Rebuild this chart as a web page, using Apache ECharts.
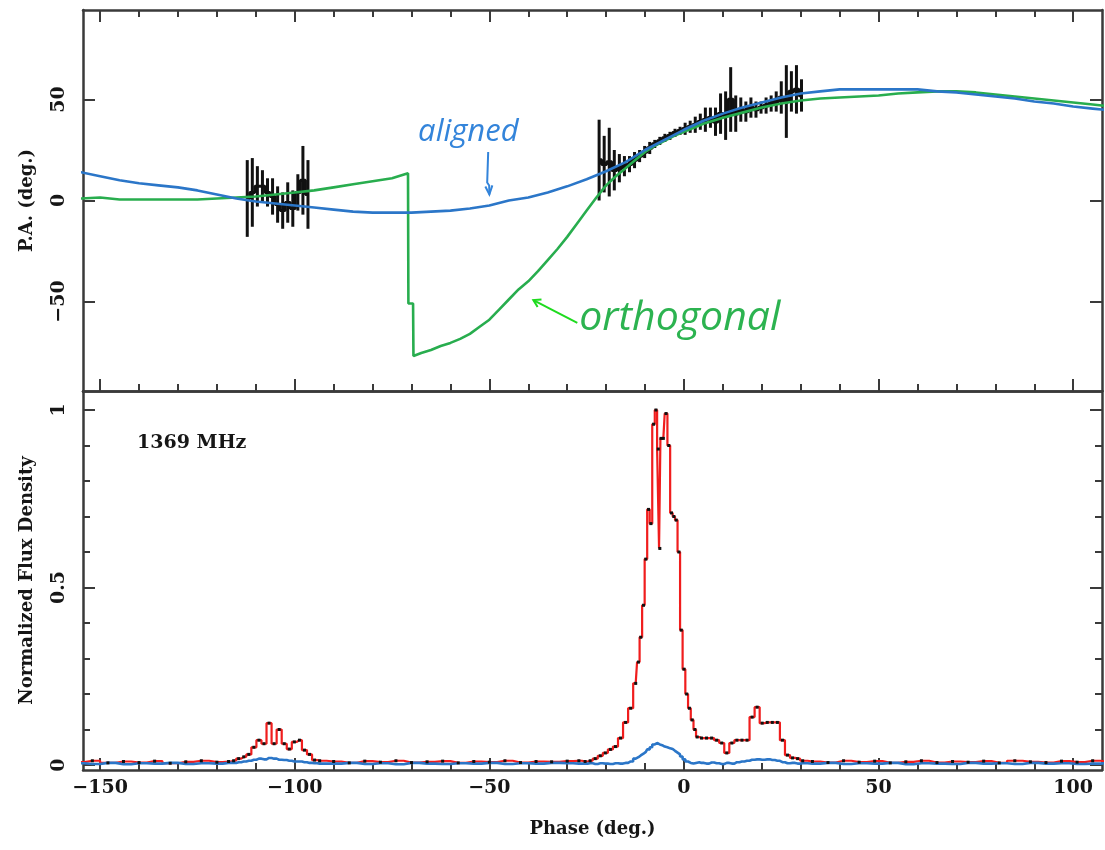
<!DOCTYPE html>
<html><head><meta charset="utf-8">
<script src="https://cdn.jsdelivr.net/npm/echarts@6/dist/echarts.min.js"></script>
<style>html,body{margin:0;padding:0;background:#fff}#c{width:1105px;height:850px}</style>
</head><body><div id="c"></div>
<script>
// ---------- tick labels ----------
const xMajorTicks = [-150, -100, -50, 0, 50, 100];
const xMinorTicks = [-150,-140,-130,-120,-110,-100,-90,-80,-70,-60,-50,-40,-30,-20,-10,0,10,20,30,40,50,60,70,80,90,100];
const paMajorTicks = [-50, 0, 50];
const fluxMajorTicks = [0, 0.5, 1];
const fluxMinorTicks = [0,0.1,0.2,0.3,0.4,0.5,0.6,0.7,0.8,0.9,1];

// ---------- top panel: RVM model curves ----------
const alignedPhase = [-155,-150,-145,-140,-135,-130,-125,-120,-115,-110,-105,-100,-95,-90,-85,-80,-75,-70,-65,-60,-55,-50,-45,-40,-35,-30,-25,-20,-15,-10,-5,0,5,10,15,20,25,30,35,40,45,50,55,60,65,70,75,80,85,90,95,100,105,110];
const alignedPA    = [14,12,10,8.5,7.5,6.5,5,3,1,-0.5,-1.5,-2.5,-3.5,-4.5,-5.5,-6,-6,-6,-5.5,-5,-4,-2.5,0,1.5,4,7,10.5,14.5,19,25,30,35,39.5,43,46,48.5,51,53,54,55,55,55,55,55,54,53.5,52.5,51.5,50.5,49,48,46.5,45.5,44.5];

const orthoPhase = [-155,-150,-145,-140,-135,-130,-125,-120,-115,-110,-105,-100,-95,-90,-85,-80,-75,-70.9,-70.8,-69.6,-69.5,
  -67.5,-65,-62.5,-60,-57.5,-55,-52.5,-50,-47.5,-45,-42.5,-40,-37.5,-35,-32.5,-30,-27.5,-25,-22.5,-20,-17.5,-15,-12.5,-10,-7.5,-5,-2.5,
  0,5,10,15,20,25,30,35,40,45,50,55,60,65,70,75,80,85,90,95,100,105,110];
const orthoPA    = [1,1.5,0.5,0.5,0.5,0.5,0.5,1,1.5,2,3,4,5,6.5,8,9.5,11,13.5,-51,-51,-77,
  -75.5,-74,-72,-70.5,-68.5,-66,-62.5,-59,-54,-49,-44,-40,-35,-29.5,-24,-18,-11.5,-5,1.5,7.5,12,16,20,24,27,29.5,32,
  34,38,41,43.5,46,48,49.5,50.5,51,51.5,52,53,53.5,54,54,53.5,52.5,51.5,50.5,49.5,48.5,47.5,46.5];

// ---------- top panel: measured P.A. with errors ----------
const pa1Phase = [-112.2,-110.9,-109.6,-108.3,-107.0,-105.7,-104.4,-103.1,-101.8,-100.5,-99.2,-97.9,-96.6];
const pa1Value = [1,4,7,7,4,2,-2,-5,-1,-4,4,10,3];
const pa1Error = [19,17,10,8,7,9,9,9,10,9,9,17,17];

const pa2Phase = [-21.8,-20.5,-19.2,-17.9,-16.6,-15.3,-14.0,-12.7,-11.4,-10.1,-8.8,-7.5,-6.2,-4.9,-3.6,-2.3,-1.0,0.3,1.6,2.9,4.2,5.5,6.8,8.1,9.4,10.7,12.0,13.3,14.6,15.9,17.2,18.5,19.8,21.1,22.4,23.7,25.0,26.3,27.6,28.9,30.2];
const pa2Value = [20,18,19,15,16,17,18,20,22,24,26,28,29.5,31,32,33.5,34.5,35.5,36.5,37.5,39,40,41,39,43,42,50,43,45,44,46,45,46,47,48,49,51,49,54,55,52];
const pa2Error = [20,14,17,10,7,5,4,4,3,3,3,2,2,2,2,2,2,3,3,4,4,6,5,7,10,12,16,9,6,5,5,4,3,4,4,5,8,18,10,12,8];

// ---------- bottom panel: profile ----------
const profPhase = [
 -156,-152,-148,-144,-140,-136,-132,-128,-124,-120,-117,
 -115.7,-114.4,-113.1,-111.8,-110.5,-109.2,-107.9,-106.6,-105.3,-104.0,-102.7,-101.4,-100.1,-98.8,-97.5,-96.2,-94.9,-93.6,
 -90,-86,-82,-78,-74,-70,-66,-62,-58,-54,-50,-46,-42,-38,-34,-30,-27,
 -25.4,-24.1,-22.8,-21.5,-20.2,-18.9,-17.6,-16.3,-15.0,-13.7,-12.4,-11.7,-11.1,-10.4,-9.8,-9.1,-8.5,-7.8,-7.2,-6.6,-6.2,-5.9,-5.3,-4.6,-3.9,-3.2,-2.6,-2.0,-1.3,-0.7,0.0,0.7,1.4,2.1,2.8,3.4,4.5,5.8,7.1,8.4,9.7,11.0,12.3,13.6,14.9,16.2,17.5,18.8,20.1,21.4,22.7,24.0,25.3,26.6,27.9,29.2,30.5,
 33,37,41,45,49,53,57,61,65,69,73,77,81,85,89,93,97,101,105,109];
const totalI = [
 0.008,0.012,0.006,0.010,0.007,0.011,0.005,0.009,0.012,0.008,0.010,
 0.012,0.018,0.023,0.030,0.050,0.070,0.060,0.118,0.060,0.100,0.060,0.045,0.065,0.070,0.042,0.030,0.014,0.012,
 0.010,0.006,0.011,0.008,0.012,0.007,0.009,0.011,0.006,0.010,0.008,0.012,0.007,0.010,0.009,0.011,0.012,
 0.010,0.012,0.018,0.026,0.034,0.044,0.052,0.076,0.12,0.16,0.23,0.29,0.36,0.45,0.58,0.72,0.68,0.96,1.0,0.89,0.61,0.92,0.92,0.99,0.90,0.71,0.70,0.69,0.60,0.38,0.27,0.20,0.16,0.127,0.10,0.079,0.076,0.076,0.076,0.07,0.062,0.034,0.062,0.07,0.07,0.07,0.135,0.163,0.118,0.12,0.12,0.12,0.07,0.028,0.02,0.018,0.012,
 0.010,0.007,0.012,0.008,0.011,0.006,0.009,0.012,0.007,0.010,0.008,0.011,0.006,0.012,0.009,0.007,0.011,0.008,0.012,0.009];
const linearL = [
 0.005,0.003,0.006,0.002,0.005,0.004,0.006,0.003,0.005,0.004,0.006,
 0.006,0.008,0.010,0.012,0.015,0.018,0.016,0.020,0.018,0.015,0.014,0.012,0.010,0.010,0.008,0.006,0.005,0.004,
 0.004,0.006,0.003,0.005,0.002,0.006,0.004,0.003,0.005,0.004,0.006,0.003,0.005,0.004,0.006,0.005,0.004,
 0.004,0.005,0.003,0.005,0.004,0.003,0.005,0.004,0.006,0.010,0.018,0.022,0.027,0.032,0.037,0.044,0.050,0.058,0.062,0.060,0.058,0.056,0.052,0.050,0.047,0.045,0.040,0.035,0.030,0.024,0.016,0.010,0.006,0.004,0.006,0.008,0.006,0.004,0.007,0.005,0.003,0.006,0.004,0.008,0.010,0.012,0.015,0.016,0.015,0.016,0.014,0.012,0.008,0.005,0.006,0.004,0.005,
 0.004,0.006,0.003,0.005,0.004,0.006,0.002,0.005,0.004,0.003,0.006,0.004,0.005,0.003,0.006,0.004,0.005,0.003,0.004,0.006];

// ---------- texts ----------
const freqLabel = '1369 MHz';
const alignedLabel = 'aligned';
const orthoLabel = 'orthogonal';

// ---------- styling ----------
const X0 = -154.4, X1 = 107.4;
const PA0 = -94.3, PA1 = 94.3;
const F0 = -0.014, F1 = 1.0535;
const FRAME = '#3a3a3a';
const TXT = '#161616';
const SERIF = '"DejaVu Serif", "Liberation Serif", serif';
const BLUE = '#2b76c8';
const GREEN = '#28ad4e';
const RED = '#f01d1d';

const frameLine = {show: true, onZero: false, lineStyle: {color: FRAME, width: 2.5}};
const noLine = {show: false, onZero: false};
const tick = (vals, len) => ({show: true, inside: true, length: len, customValues: vals, lineStyle: {color: FRAME, width: 2}});
const noTick = {show: false};
const noLabel = {show: false};
const minus = v => String(v).replace('-', '\u2212');

const zip = (a, b) => a.map((v, i) => [v, b[i]]);
const zip3 = (a, b, c) => a.map((v, i) => [v, b[i], c[i]]);

const xAxes = [
  {gridIndex: 0, position: 'bottom', min: X0, max: X1, axisLine: frameLine, axisTick: tick(xMajorTicks, 12), axisLabel: noLabel},
  {gridIndex: 0, position: 'top', min: X0, max: X1, axisLine: frameLine, axisTick: tick(xMajorTicks, 12), axisLabel: noLabel},
  {gridIndex: 1, position: 'bottom', min: X0, max: X1, axisLine: frameLine, axisTick: tick(xMajorTicks, 12),
   axisLabel: {show: true, customValues: xMajorTicks, formatter: minus, margin: 9, fontFamily: SERIF, fontWeight: 'bold', fontSize: 19, color: TXT},
   name: 'Phase (deg.)', nameLocation: 'middle', nameGap: 50,
   nameTextStyle: {fontFamily: SERIF, fontWeight: 'bold', fontSize: 18, color: TXT}},
  {gridIndex: 1, position: 'top', min: X0, max: X1, axisLine: frameLine, axisTick: noTick, axisLabel: noLabel},
  {gridIndex: 2, position: 'bottom', min: X0, max: X1, axisLine: noLine, axisTick: tick(xMinorTicks, 7), axisLabel: noLabel},
  {gridIndex: 2, position: 'top', min: X0, max: X1, axisLine: noLine, axisTick: tick(xMinorTicks, 7), axisLabel: noLabel},
  {gridIndex: 3, position: 'bottom', min: X0, max: X1, axisLine: noLine, axisTick: tick(xMinorTicks, 7), axisLabel: noLabel}
].map(a => Object.assign({type: 'value', splitLine: {show: false}}, a));

const yAxes = [
  {gridIndex: 0, position: 'left', min: PA0, max: PA1, axisLine: frameLine, axisTick: tick(paMajorTicks, 12),
   axisLabel: {show: true, customValues: paMajorTicks, formatter: minus, rotate: 90, margin: 14, fontFamily: SERIF, fontWeight: 'bold', fontSize: 19, color: TXT},
   name: 'P.A. (deg.)', nameLocation: 'middle', nameGap: 47,
   nameTextStyle: {fontFamily: SERIF, fontWeight: 'bold', fontSize: 18, color: TXT}},
  {gridIndex: 0, position: 'right', min: PA0, max: PA1, axisLine: frameLine, axisTick: tick(paMajorTicks, 12), axisLabel: noLabel},
  {gridIndex: 1, position: 'left', min: F0, max: F1, axisLine: frameLine, axisTick: tick(fluxMajorTicks, 12),
   axisLabel: {show: true, customValues: fluxMajorTicks, formatter: v => String(v), rotate: 90, margin: 14, fontFamily: SERIF, fontWeight: 'bold', fontSize: 19, color: TXT},
   name: 'Normalized Flux Density', nameLocation: 'middle', nameGap: 47,
   nameTextStyle: {fontFamily: SERIF, fontWeight: 'bold', fontSize: 18, color: TXT}},
  {gridIndex: 1, position: 'right', min: F0, max: F1, axisLine: frameLine, axisTick: tick(fluxMajorTicks, 12), axisLabel: noLabel},
  {gridIndex: 2, position: 'left', min: PA0, max: PA1, axisLine: noLine, axisTick: noTick, axisLabel: noLabel},
  {gridIndex: 3, position: 'left', min: F0, max: F1, axisLine: noLine, axisTick: tick(fluxMinorTicks, 7), axisLabel: noLabel},
  {gridIndex: 3, position: 'right', min: F0, max: F1, axisLine: noLine, axisTick: tick(fluxMinorTicks, 7), axisLabel: noLabel}
].map(a => Object.assign({type: 'value', splitLine: {show: false}}, a));

const errRender = (params, api) => {
  const x = api.value(0), v = api.value(1), e = api.value(2);
  const a = api.coord([x, v + e]), b = api.coord([x, v - e]);
  return {type: 'line', shape: {x1: a[0], y1: a[1], x2: b[0], y2: b[1]}, style: {stroke: '#111', lineWidth: 3}};
};

const option = {
  animation: false,
  backgroundColor: '#fff',
  grid: [
    {left: 83, top: 10, width: 1019, height: 381},
    {left: 83, top: 391, width: 1019, height: 379},
    {left: 83, top: 10, width: 1019, height: 381},
    {left: 83, top: 391, width: 1019, height: 379}
  ],
  xAxis: xAxes,
  yAxis: yAxes,
  series: [
    {type: 'custom', xAxisIndex: 0, yAxisIndex: 0, clip: true, renderItem: errRender, encode: {x: 0, y: 1}, data: zip3(pa1Phase, pa1Value, pa1Error)},
    {type: 'custom', xAxisIndex: 0, yAxisIndex: 0, clip: true, renderItem: errRender, encode: {x: 0, y: 1}, data: zip3(pa2Phase, pa2Value, pa2Error)},
    {type: 'line', xAxisIndex: 0, yAxisIndex: 0, step: 'middle', symbol: 'none', lineStyle: {color: '#111', width: 3}, data: zip(pa1Phase, pa1Value)},
    {type: 'line', xAxisIndex: 0, yAxisIndex: 0, step: 'middle', symbol: 'none', lineStyle: {color: '#111', width: 3.5}, data: zip(pa2Phase, pa2Value)},
    {type: 'line', xAxisIndex: 0, yAxisIndex: 0, symbol: 'none', lineStyle: {color: GREEN, width: 2.6}, data: zip(orthoPhase, orthoPA)},
    {type: 'line', xAxisIndex: 0, yAxisIndex: 0, symbol: 'none', lineStyle: {color: BLUE, width: 2.6}, data: zip(alignedPhase, alignedPA)},
    {type: 'line', xAxisIndex: 2, yAxisIndex: 2, step: 'middle', symbol: 'rect', symbolSize: 3, showSymbol: true, showAllSymbol: true,
     itemStyle: {color: '#111'}, lineStyle: {color: RED, width: 2.2}, data: zip(profPhase, totalI)},
    {type: 'line', xAxisIndex: 2, yAxisIndex: 2, step: 'middle', symbol: 'none', lineStyle: {color: BLUE, width: 2.6}, data: zip(profPhase, linearL)}
  ]
};

const chart = echarts.init(document.getElementById('c'));
chart.setOption(option);

const toTop = pt => chart.convertToPixel({xAxisIndex: 0, yAxisIndex: 0}, pt);
const toBot = pt => chart.convertToPixel({xAxisIndex: 2, yAxisIndex: 2}, pt);

const alTxt = toTop([-55.4, 33.7]);
const alA = toTop([-50.3, 24]);
const alB = toTop([-50.0, 3]);
const orTxt = toTop([-26.9, -58.2]);
const orA = toTop([-27.4, -60.6]);
const orB = toTop([-38.7, -49.3]);
const fq = toBot([-140.5, 0.907]);

const dx = orB[0] - orA[0], dy = orB[1] - orA[1];
const len = Math.hypot(dx, dy), ux = dx / len, uy = dy / len;
const hs = 7;

chart.setOption({
  graphic: [
    {type: 'text', x: alTxt[0], y: alTxt[1], style: {text: alignedLabel, font: 'italic 31px "Open Sans"', fill: '#3384da', align: 'center', verticalAlign: 'middle'}},
    {type: 'polyline', shape: {points: [alA, [alA[0] - 1, alB[1] - 12], [alA[0] + 1, alB[1] - 9], [alB[0], alB[1]]]}, style: {stroke: '#3384da', lineWidth: 2, fill: null}},
    {type: 'polyline', shape: {points: [[alB[0] - 4, alB[1] - 8], alB, [alB[0] + 3, alB[1] - 9]]}, style: {stroke: '#3384da', lineWidth: 2, fill: null}},
    {type: 'text', x: orTxt[0], y: orTxt[1], style: {text: orthoLabel, font: 'italic 41px "Open Sans"', fill: '#2cb350', align: 'left', verticalAlign: 'middle'}},
    {type: 'line', shape: {x1: orA[0], y1: orA[1], x2: orB[0], y2: orB[1]}, style: {stroke: '#1edb1e', lineWidth: 2}},
    {type: 'polyline', shape: {points: [
      [orB[0] - ux * hs - uy * hs * 0.6, orB[1] - uy * hs + ux * hs * 0.6],
      orB,
      [orB[0] - ux * hs + uy * hs * 0.6, orB[1] - uy * hs - ux * hs * 0.6]]}, style: {stroke: '#1edb1e', lineWidth: 2, fill: null}},
    {type: 'text', x: fq[0], y: fq[1], style: {text: freqLabel, font: 'bold 19px "DejaVu Serif"', fill: TXT, align: 'left', verticalAlign: 'middle'}}
  ]
});
</script></body></html>
